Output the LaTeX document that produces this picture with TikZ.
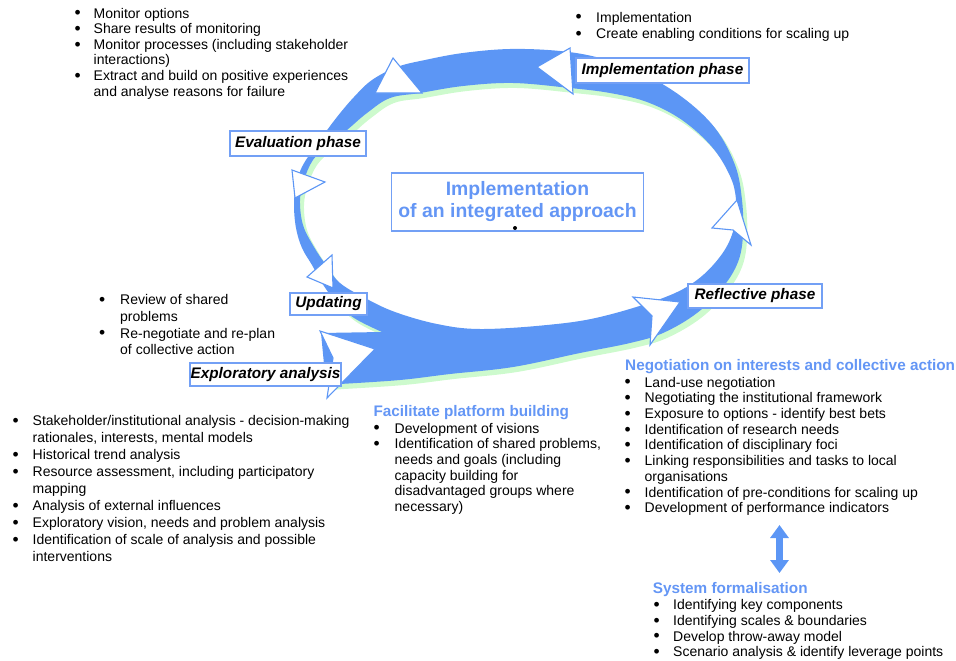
\documentclass[tikz,border=0pt]{standalone}
\usepackage{fontspec}
\setmainfont{Liberation Sans}
\usetikzlibrary{arrows.meta}

\definecolor{bandblue}{RGB}{92,150,245}
\definecolor{shadegreen}{RGB}{205,250,205}
\definecolor{boxblue}{RGB}{115,160,245}
\definecolor{headblue}{RGB}{100,150,245}

\tikzset{
    phase/.style={draw=boxblue, fill=white, line width=1.1pt, inner sep=0pt,
        font=\fontsize{15.3}{17}\selectfont\bfseries\itshape},
    tri/.style={draw=bandblue, fill=white, line width=1.1pt, line join=miter},
    lst/.style={anchor=base west, inner sep=0pt, align=left},
    head/.style={anchor=base west, inner sep=0pt, text=headblue,
        font=\fontsize{15.3}{17}\selectfont\bfseries},
    bandshape/.style={insert path={
        (326,385) -- plot[smooth, tension=0.6] coordinates {
            (340,384) (400,380) (450,374) (513,367) (580,353) (630,343)
            (663,333) (697,313) (723,287) (738,262) (743,235) (742,200)
            (735,165) (715,128) (682,97) (640,72) (600,58) (560,51)
            (510,49) (463,53) (425,60) (397,67) (372,80) (354,97)
            (337,117) (320,140) (303,165) (296,185) (294,205) (296,228)
            (302,248) (312,265) (322,283) (336,302) (354,318) (382,332)}
        -- (321,333) -- cycle
        plot[smooth cycle, tension=0.6] coordinates {
            (340,283) (365,298) (395,312) (437,324) (480,329) (547,325)
            (600,317) (663,298) (697,280) (722,254) (734,228) (736,200)
            (730,176) (712,147) (682,120) (647,102) (610,93) (570,88)
            (513,83) (463,86) (420,93) (390,98) (367,113) (347,130)
            (328,145) (313,160) (304,180) (300,200) (303,225) (314,247)
            (326,265)}
    }},
}

% bullet list: gap between bullet and text, rows
\newcommand{\blist}[2]{\begin{tabular}[t]{@{}p{#1}@{}l@{}}#2\end{tabular}}
\newcommand{\bul}{\raisebox{-0.8pt}{\scalebox{1.25}{\textbullet}}}

\begin{document}
\begin{tikzpicture}[x=1pt, y=-1pt]

    \useasboundingbox (0,0) rectangle (956,661);

    % Band with its shadow
    \fill[shadegreen, even odd rule, shift={(4,5)}, bandshape];
    \fill[bandblue, even odd rule, bandshape];

    % Arrow heads on the band
    \draw[tri] (393,58) -- (375,93) -- (422,93) -- cycle;
    \draw[tri] (570,48) -- (537,67) -- (573,94) -- cycle;
    \draw[tri] (292,170) -- (325,182) -- (295,198) -- cycle;
    \draw[tri] (332,255) -- (307,277) -- (333,288) -- cycle;
    \draw[tri] (737,200) -- (712,228) -- (733,230) -- (751,245) -- cycle;
    \draw[tri] (633,297) -- (680,302) -- (650,345) -- (652,316) -- cycle;
    \draw[tri] (320,331) -- (375,349) -- (327,398) -- (333,358) -- cycle;

    % Phases
    \node[phase, minimum width=136pt, minimum height=25pt] (eval) at (298,143.5) {Evaluation phase};
    \node[phase, minimum width=173pt, minimum height=25pt] (impl) at (662.5,70.5) {Implementation phase};
    \node[phase, minimum width=77pt, minimum height=22pt] (upd) at (328.5,304) {Updating};
    \node[phase, minimum width=151pt, minimum height=23pt] (expl) at (265.5,374.5) {Exploratory analysis};
    \node[phase, minimum width=134pt, minimum height=24pt] (refl) at (755,296) {Reflective phase};

    % Centre
    \node[draw=boxblue, line width=1.1pt, minimum width=252pt, minimum height=58pt,
        align=center, text=headblue, font=\fontsize{19.4}{22}\selectfont\bfseries]
        (centre) at (517.5,202) {Implementation\\of an integrated approach};
    \fill (515,228) circle (2pt);

    % Lists
    \node[lst, font=\fontsize{14}{15.6}\selectfont] (evallist) at (74.5,18.1) {\blist{19pt}{
        \bul & Monitor options\\
        \bul & Share results of monitoring\\
        \bul & Monitor processes (including stakeholder\\
             & interactions)\\
        \bul & Extract and build on positive experiences\\
             & and analyse reasons for failure\\}};
    \node[lst, font=\fontsize{14}{16.3}\selectfont] (impllist) at (575.5,22.1) {\blist{20.5pt}{
        \bul & Implementation\\
        \bul & Create enabling conditions for scaling up\\}};
    \node[lst, font=\fontsize{14}{16.6}\selectfont] (updlist) at (99,304.8) {\blist{21pt}{
        \bul & Review of shared\\
             & problems\\
        \bul & Re-negotiate and re-plan\\
             & of collective action\\}};
    \node[lst, font=\fontsize{14}{17}\selectfont] (expllist) at (12.5,425.8) {\blist{20pt}{
        \bul & Stakeholder/institutional analysis - decision-making\\
             & rationales, interests, mental models\\
        \bul & Historical trend analysis\\
        \bul & Resource assessment, including participatory\\
             & mapping\\
        \bul & Analysis of external influences\\
        \bul & Exploratory vision, needs and problem analysis\\
        \bul & Identification of scale of analysis and possible\\
             & interventions\\}};

    \node[head] (facil) at (373.3,416.5) {Facilitate platform building};
    \node[lst, font=\fontsize{14}{15.7}\selectfont] (facillist) at (373.5,433.1) {\blist{21pt}{
        \bul & Development of visions\\
        \bul & Identification of shared problems,\\
             & needs and goals (including\\
             & capacity building for\\
             & disadvantaged groups where\\
             & necessary)\\}};

    \node[head] (negot) at (625,370.5) {Negotiation on interests and collective action};
    \node[lst, font=\fontsize{14}{15.7}\selectfont] (negotlist) at (624.5,387.1) {\blist{20pt}{
        \bul & Land-use negotiation\\
        \bul & Negotiating the institutional framework\\
        \bul & Exposure to options - identify best bets\\
        \bul & Identification of research needs\\
        \bul & Identification of disciplinary foci\\
        \bul & Linking responsibilities and tasks to local\\
             & organisations\\
        \bul & Identification of pre-conditions for scaling up\\
        \bul & Development of performance indicators\\}};

    \node[head] (sys) at (652.7,593.8) {System formalisation};
    \node[lst, font=\fontsize{14}{15.7}\selectfont] (syslist) at (653.5,609.6) {\blist{19.5pt}{
        \bul & Identifying key components\\
        \bul & Identifying scales \& boundaries\\
        \bul & Develop throw-away model\\
        \bul & Scenario analysis \& identify leverage points\\}};

    % Link between negotiation and formalisation
    \coordinate (linktop) at (779.5,525);
    \coordinate (linkbot) at (779.5,573);
    \draw[bandblue, line width=7pt,
        {Triangle[width=18pt,length=13pt]}-{Triangle[width=18pt,length=13pt]}]
        (linktop) -- (linkbot);

\end{tikzpicture}
\end{document}
